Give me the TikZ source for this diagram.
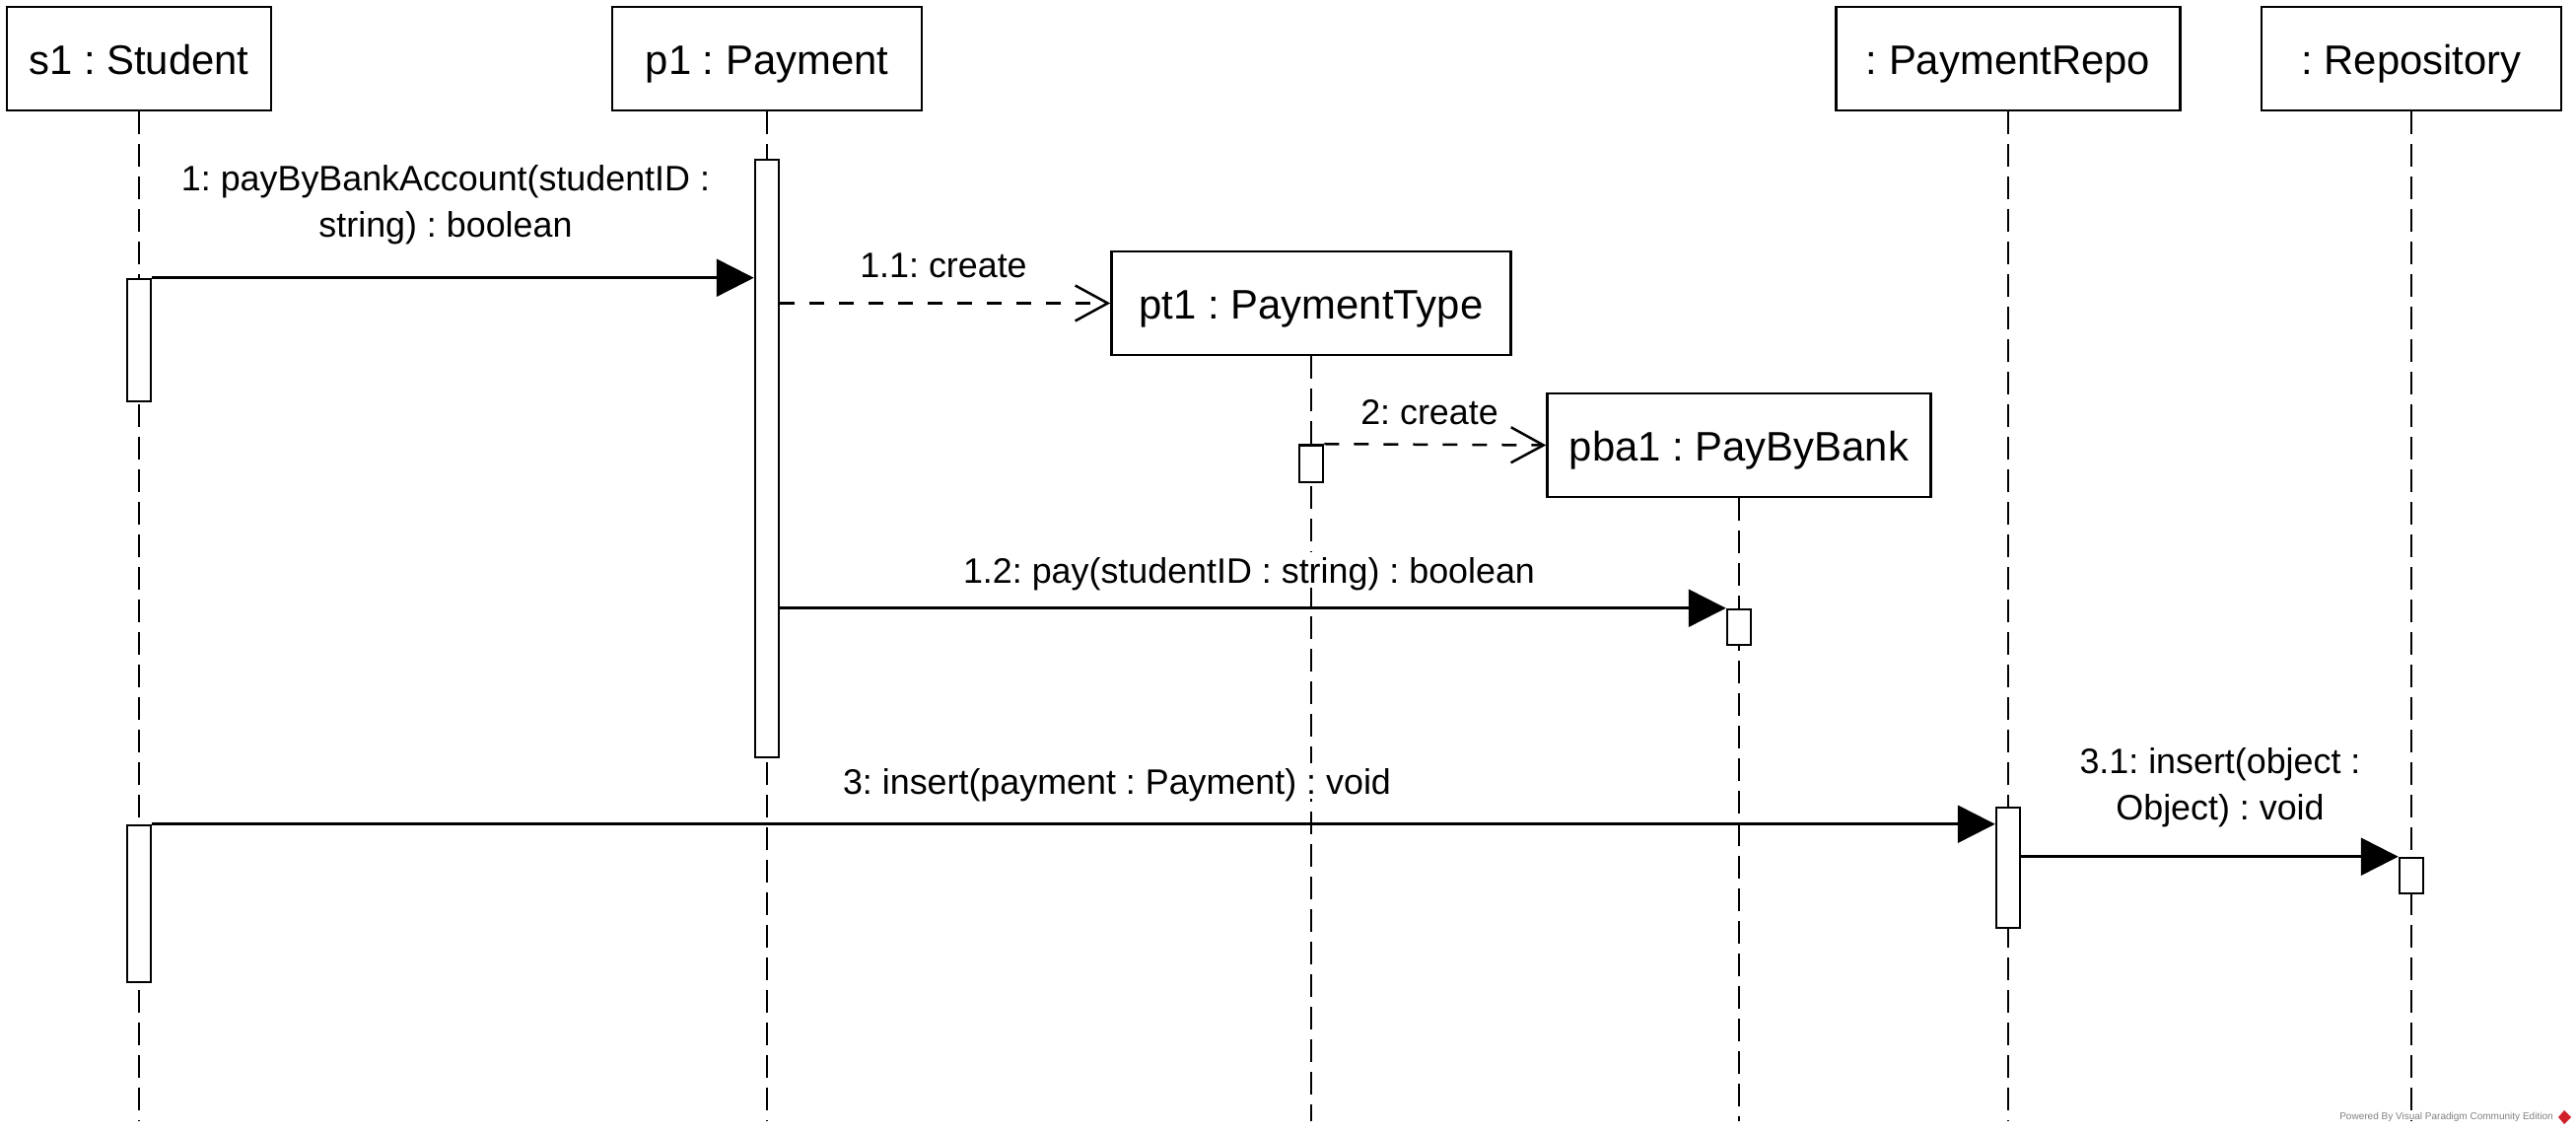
\documentclass[tikz,border=0pt]{standalone}
\usepackage{fontspec}
\setmainfont{Liberation Sans}
\frenchspacing
\usetikzlibrary{arrows.meta,fit}
\begin{document}
\begin{tikzpicture}[x=0.2mm,y=0.2mm,
  head/.style={draw,line width=0.5mm,fill=white,inner sep=0pt,minimum height=21mm,text height=17.9pt,text depth=0pt,font=\fontsize{23.8pt}{28pt}\selectfont},
  act/.style={draw,line width=0.5mm,fill=white,inner sep=0pt,minimum width=4.8mm},
  lifeline/.style={line width=0.45mm,dash pattern=on 4.6mm off 2mm},
  call/.style={line width=0.5mm,-{Triangle[length=7.6mm,width=7.6mm]}},
  create/.style={line width=0.5mm,dash pattern=on 3mm off 3mm,-{Straight Barb[length=6.6mm,width=7.2mm]}},
  msg/.style={fill=white,inner sep=1mm,align=center,text height=15.3pt,text depth=0pt,font=\fontsize{20.4pt}{26.7pt}\selectfont},
  msgtwo/.style={msg,text height=42pt}]
\definecolor{vpgray}{HTML}{808080}
\definecolor{vpred}{HTML}{D0202A}
\useasboundingbox (0,0) rectangle (2613,1149);
\node[head,minimum width=53.6mm] (s1) at (141,1089.5) {s1 : Student};
\node[head,minimum width=62.8mm] (p1) at (778,1089.5) {p1 : Payment};
\node[head,minimum width=81mm] (pt1) at (1330,841.5) {pt1 : PaymentType};
\node[head,minimum width=77.8mm] (pba1) at (1764,697.5) {pba1 : PayByBank};
\node[head,minimum width=69.8mm] (prepo) at (2037,1089.5) {: PaymentRepo};
\node[head,minimum width=60.8mm] (repo) at (2446,1089.5) {: Repository};
\coordinate (bottom) at (0,12);
\foreach \n in {s1,p1,pt1,pba1,prepo,repo}
  \draw[lifeline] (\n.south) -- (\n.south |- bottom);
\node[msgtwo] (l1) at (452,945.5) {1: payByBankAccount(studentID :\\string) : boolean};
\node[msg] (l11) at (957,881) {1.1: create};
\node[msg] (l2) at (1450,732) {2: create};
\node[msg] (l12) at (1267,571) {1.2: pay(studentID : string) : boolean};
\node[msg] (l3) at (1133,357) {3: insert(payment : Payment) : void};
\node[msgtwo] (l31) at (2252,354.5) {3.1: insert(object :\\Object) : void};
\node[act,fit={(141,866)(141,742)}] (s1a) {};
\node[act,fit={(141,312)(141,153)}] (s1b) {};
\node[act,fit={(778,987)(778,381)}] (p1a) {};
\node[act,fit={(1330,697.5)(1330,660)}] (pt1a) {};
\node[act,fit={(1764,531)(1764,495)}] (pba1a) {};
\node[act,fit={(2037,330)(2037,208)}] (prepoa) {};
\node[act,fit={(2446,279)(2446,243)}] (repoa) {};
\draw[call] (s1a.north east) -- (p1a.west |- s1a.north);
\draw[create] (p1a.east |- pt1.west) -- (pt1.west);
\draw[create] (pt1a.north east) -- (pba1.west);
\draw[call] (p1a.east |- pba1a.north) -- (pba1a.north west);
\draw[call] (s1b.north east) -- (prepoa.west |- s1b.north);
\draw[call] (prepoa.east |- repoa.north) -- (repoa.north west);
\node[anchor=east,text=vpgray,inner sep=0pt,font=\fontsize{5.7pt}{7pt}\selectfont] (vp) at (2590,16) {Powered By Visual Paradigm Community Edition};
\fill[vpred] (2595,16) -- (2601,23) -- (2608,16) -- (2601,9) -- cycle;
\end{tikzpicture}
\end{document}
